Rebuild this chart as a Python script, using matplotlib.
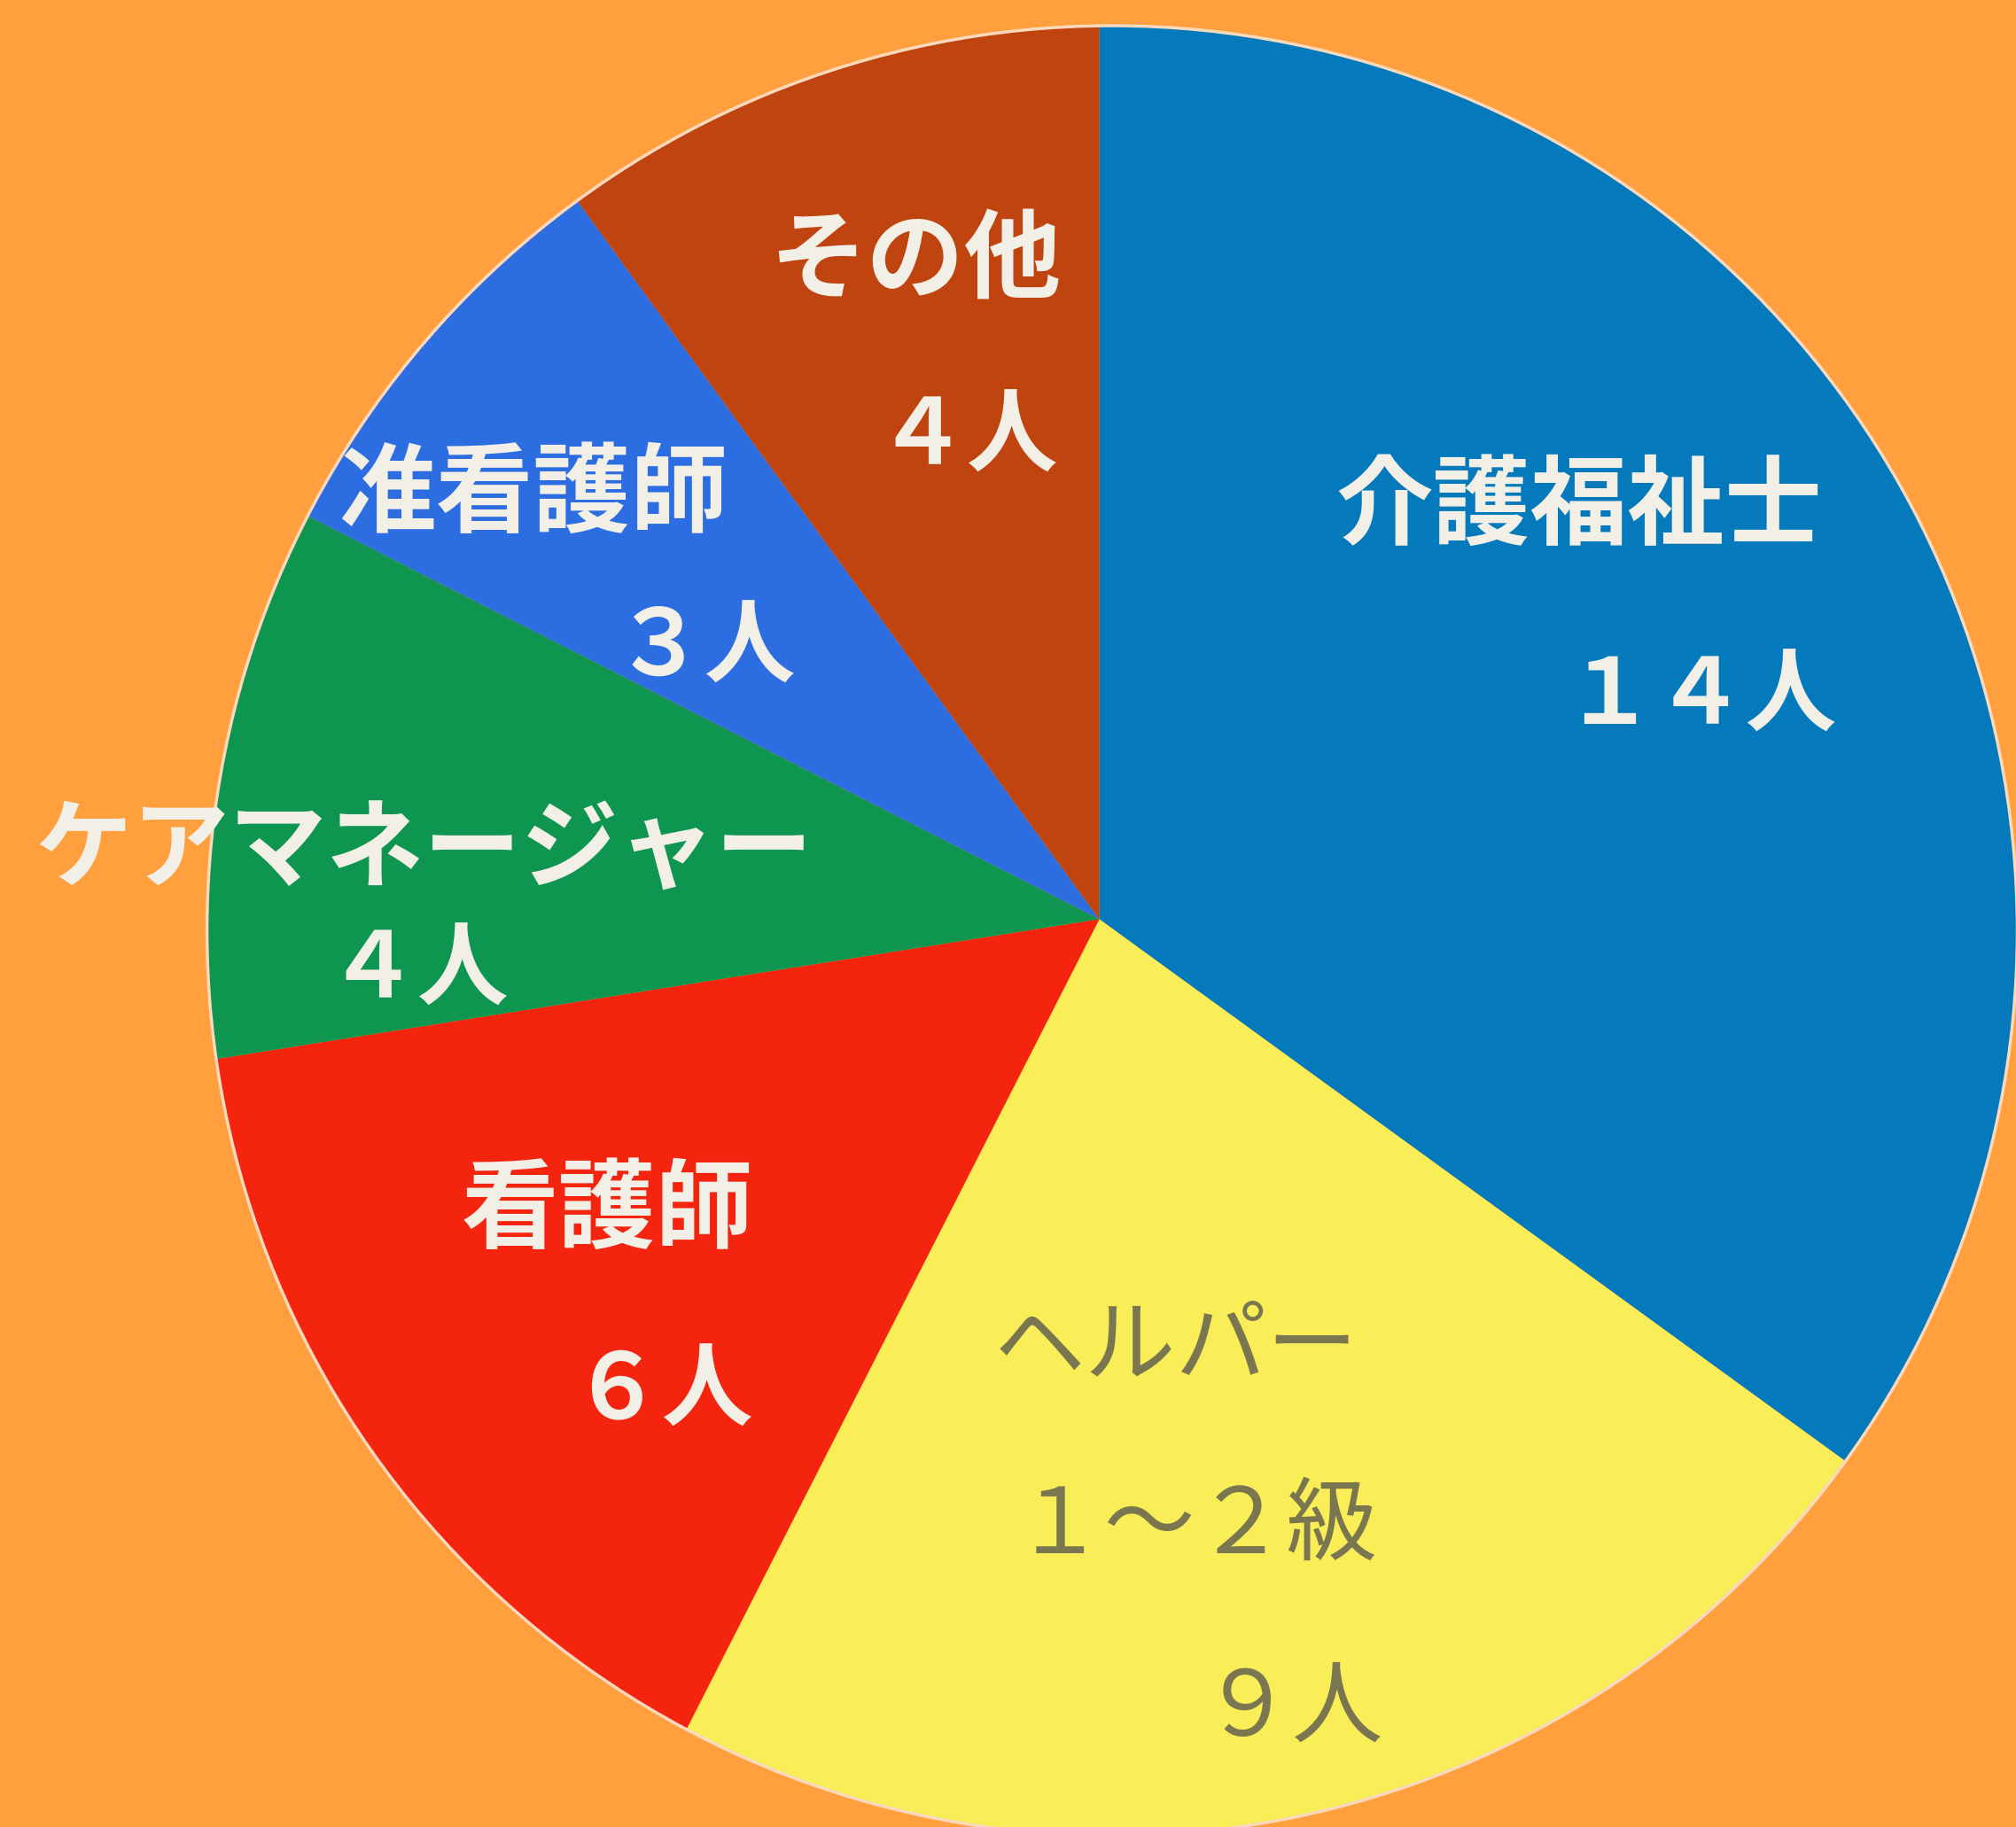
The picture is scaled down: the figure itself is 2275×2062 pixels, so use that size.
import matplotlib
matplotlib.use('Agg')
import matplotlib.pyplot as plt
from matplotlib.patches import Circle

plt.rcParams['font.family'] = ['Noto Sans CJK JP', 'DejaVu Sans']

W, H = 2275, 2062
SCALE = W / 1568

jobs = ['介護福祉士', 'ヘルパー', '看護師', 'ケアマネージャー', '准看護師', 'その他']
helper_grade = '１～２級'
counts = [14, 9, 6, 4, 3, 4]
count_labels = ['１４人', '９人', '６人', '４人', '３人', '４人']
colors = ['#0479BC', '#F9EE58', '#F4240F', '#0E9550', '#2C6DE2', '#C0440F']

# label places, in the pixels of the picture at 1568 wide
name_pos = [(1228, 396), (915, 1048), (472, 943), (330, 663), (415, 386), (712, 205)]
count_pos = [(1322, 543), (1005, 1330), (515, 1083), (325, 756), (548, 505), (752, 341)]

WHITE = '#F2EFE6'
GREY = '#7A7650'


def px(x, y):
    return x * SCALE, H - y * SCALE


fig = plt.figure(figsize=(W / 100, H / 100), dpi=100, facecolor='#FF9F3E')
ax = fig.add_axes([0, 0, 1, 1])

# the slices meet off the middle of the painted circle, so clip them to it
apex = px(855, 715)
wedges, _ = ax.pie(counts, colors=colors, startangle=90, counterclock=False,
                   center=apex, radius=760 * SCALE)
clip = Circle(px(865, 724), 704 * SCALE, transform=ax.transData)
for w in wedges:
    w.set_clip_on(True)
    w.set_clip_path(clip)
ax.add_patch(Circle(px(865, 724), 704 * SCALE, fill=False, ec='#FBD9BC', lw=2.5, zorder=3))
ax.set_xlim(0, W)
ax.set_ylim(0, H)
ax.set_axis_off()

for i, name in enumerate(jobs):
    # the grey painting on the yellow slice is thinner than the white
    col = GREY if i == 1 else WHITE
    weight = 'normal' if i == 1 else 'bold'
    size = 74 if i == 1 else 79
    x, y = px(*name_pos[i])
    ax.text(x, y, name, color=col, fontsize=size, fontweight=weight,
            ha='center', va='center', zorder=4)
    x, y = px(*count_pos[i])
    ax.text(x, y, count_labels[i], color=col, fontsize=74, fontweight=weight,
            ha='center', va='center', zorder=4)

x, y = px(930, 1188)
ax.text(x, y, helper_grade, color=GREY, fontsize=74, ha='center', va='center', zorder=4)

fig.savefig('out.png', dpi=100, facecolor=fig.get_facecolor())
